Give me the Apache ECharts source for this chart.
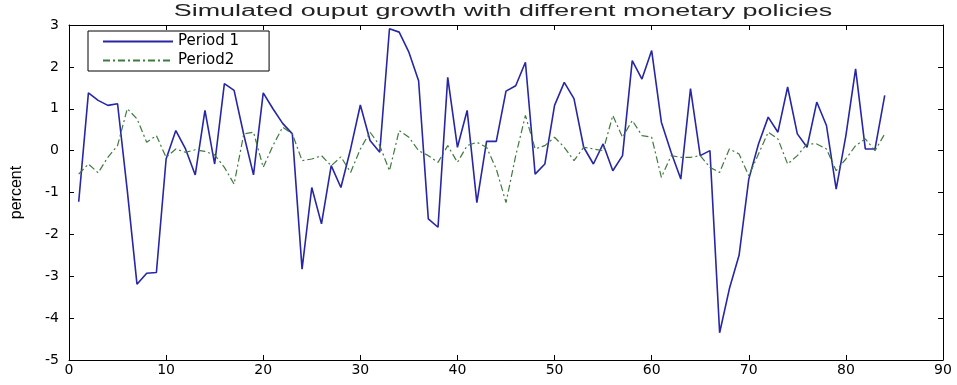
<!DOCTYPE html>
<html>
<head>
<meta charset="utf-8">
<script src="https://cdn.jsdelivr.net/npm/echarts@6/dist/echarts.min.js"></script>
<style>html,body{margin:0;padding:0;background:#fff;}#c{width:957px;height:385px;}</style>
</head>
<body>
<div id="c"></div>
<script>
const titleText = 'Simulated ouput growth with different monetary policies';
const yAxisName = 'percent';
const seriesNames = ['Period 1', 'Period2'];
const xTicks = { min: 0, max: 90, interval: 10 };
const yTicks = { min: -5, max: 3, interval: 1 };

const period1 = [
  -1.22, 1.38, 1.20, 1.08, 1.12, -0.95, -3.19, -2.93, -2.91, -0.20,
  0.48, 0.04, -0.58, 0.96, -0.32, 1.60, 1.44, 0.38, -0.58, 1.38,
  1.00, 0.65, 0.40, -2.83, -0.88, -1.75, -0.36, -0.88, 0.04, 1.09,
  0.24, -0.04, 2.91, 2.83, 2.35, 1.67, -1.63, -1.83, 1.75, 0.08,
  0.96, -1.24, 0.22, 0.22, 1.42, 1.55, 2.11, -0.56, -0.32, 1.08,
  1.63, 1.24, 0.08, -0.32, 0.16, -0.48, -0.12, 2.15, 1.71, 2.39,
  0.68, -0.04, -0.68, 1.48, -0.12, 0.00, -4.35, -3.30, -2.50, -0.68,
  0.16, 0.80, 0.44, 1.52, 0.40, 0.08, 1.16, 0.60, -0.92, 0.36,
  1.95, 0.04, 0.04, 1.32
];
const period2 = [
  -0.56, -0.32, -0.53, -0.16, 0.12, 1.00, 0.76, 0.20, 0.36, -0.16,
  0.04, -0.04, 0.02, -0.02, -0.10, -0.40, -0.80, 0.40, 0.44, -0.40,
  0.12, 0.56, 0.40, -0.24, -0.20, -0.12, -0.36, -0.15, -0.52, 0.04,
  0.44, 0.12, -0.48, 0.48, 0.32, 0.00, -0.12, -0.28, 0.12, -0.28,
  0.12, 0.20, 0.08, -0.44, -1.24, -0.12, 0.84, 0.04, 0.12, 0.32,
  0.08, -0.24, 0.08, 0.04, 0.00, 0.84, 0.32, 0.72, 0.36, 0.32,
  -0.64, -0.12, -0.16, -0.16, -0.12, -0.40, -0.52, 0.04, -0.08, -0.60,
  -0.08, 0.44, 0.28, -0.32, -0.12, 0.16, 0.16, 0.04, -0.48, -0.20,
  0.12, 0.28, 0.00, 0.40
];

const toPairs = arr => arr.map((v, i) => [i + 1, v]);

const axisCommon = {
  type: 'value',
  axisLine: { show: true, onZero: false, lineStyle: { color: '#000', width: 1 } },
  axisTick: { show: true, inside: true, length: 5, lineStyle: { color: '#000' } },
  splitLine: { show: false }
};
const labelStyle = { color: '#000', fontFamily: 'DejaVu Sans', fontSize: 14 };

const chart = echarts.init(document.getElementById('c'), null, { renderer: 'canvas' });
chart.setOption({
  backgroundColor: '#fff',
  animation: false,
  grid: { left: 69, right: 14, top: 25, bottom: 25, containLabel: false },
  graphic: [{
    type: 'text',
    x: 503, y: 12,
    scaleX: 1.68,
    style: {
      text: titleText, x: 0, y: 0,
      align: 'center', verticalAlign: 'middle',
      font: '16px "Liberation Sans"', fill: '#222'
    }
  }],
  legend: {
    orient: 'vertical',
    left: 88, top: 31,
    padding: [3, 30, 3, 14],
    itemWidth: 70, itemHeight: 14, itemGap: 4,
    borderColor: '#000', borderWidth: 1, borderRadius: 0,
    backgroundColor: '#fff',
    itemStyle: { opacity: 0 },
    textStyle: { color: '#000', fontFamily: 'DejaVu Sans', fontSize: 15 },
    data: seriesNames
  },
  xAxis: [
    Object.assign({}, axisCommon, {
      position: 'bottom', min: xTicks.min, max: xTicks.max, interval: xTicks.interval,
      axisLabel: Object.assign({ margin: 3 }, labelStyle)
    }),
    Object.assign({}, axisCommon, {
      position: 'top', min: xTicks.min, max: xTicks.max, interval: xTicks.interval,
      axisLabel: { show: false }
    })
  ],
  yAxis: [
    Object.assign({}, axisCommon, {
      position: 'left', min: yTicks.min, max: yTicks.max, interval: yTicks.interval,
      axisLabel: Object.assign({ margin: 10 }, labelStyle),
      name: yAxisName, nameLocation: 'middle', nameGap: 44, nameRotate: 90,
      nameTextStyle: { color: '#000', fontFamily: 'Liberation Sans', fontSize: 16 }
    }),
    Object.assign({}, axisCommon, {
      position: 'right', min: yTicks.min, max: yTicks.max, interval: yTicks.interval,
      axisLabel: { show: false }
    })
  ],
  series: [
    {
      name: seriesNames[0], type: 'line', xAxisIndex: 0, yAxisIndex: 0,
      symbol: 'none', data: toPairs(period1),
      lineStyle: { color: '#2626a6', width: 1.6 },
      itemStyle: { color: '#2626a6' }
    },
    {
      name: seriesNames[1], type: 'line', xAxisIndex: 0, yAxisIndex: 0,
      symbol: 'none', data: toPairs(period2),
      lineStyle: { color: '#3f7a3f', width: 1.2, type: [7, 3, 2, 3] },
      itemStyle: { color: '#3f7a3f' }
    }
  ]
});
</script>
</body>
</html>
